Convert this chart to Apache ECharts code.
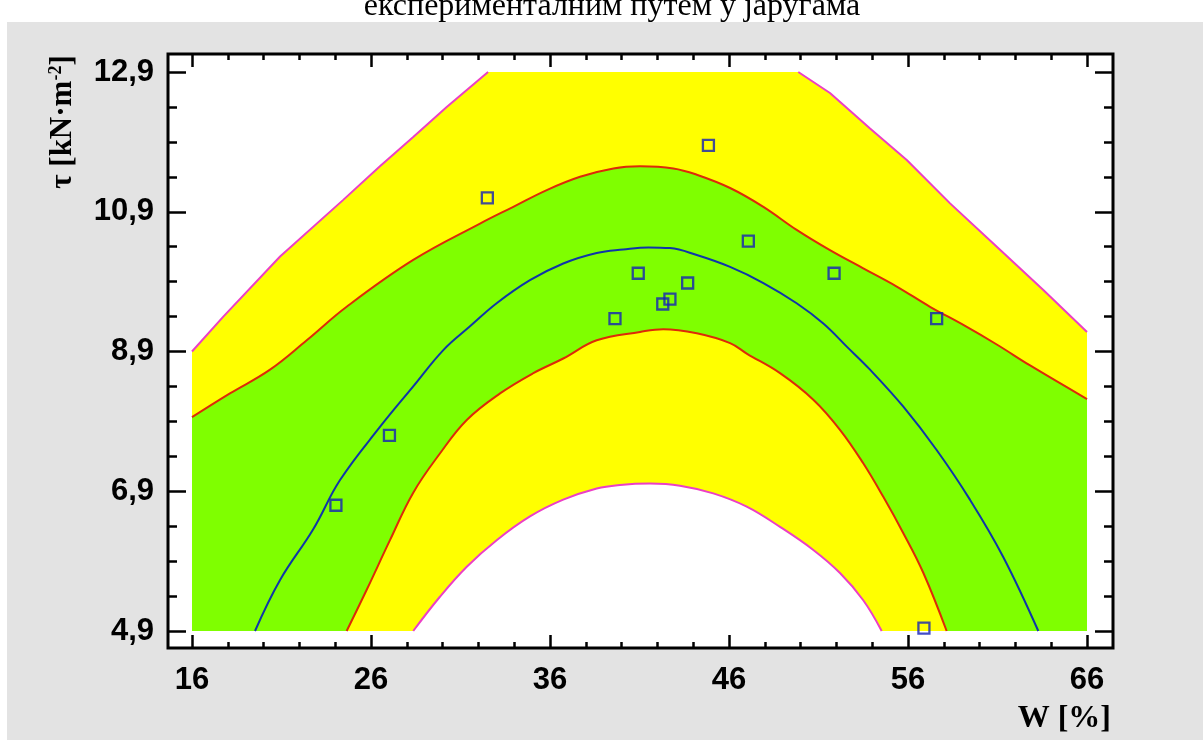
<!DOCTYPE html>
<html lang="sr">
<head>
<meta charset="UTF-8">
<title>τ - W</title>
<script src="https://cdn.jsdelivr.net/npm/echarts@6/dist/echarts.min.js"></script>
<style>
  html, body { margin: 0; padding: 0; background: #fff; }
  #chart { width: 1203px; height: 740px; }
</style>
</head>
<body>
<div id="chart"></div>
<script>
// values: [W %, tau kN/m2]
const xTicks = [16, 26, 36, 46, 56, 66];
const yTicks = [4.9, 6.9, 8.9, 10.9, 12.9];

const magentaUpperLeft = [[16, 8.90], [17.75, 9.40], [20.92, 10.26], [24.45, 11.07], [26.50, 11.55],
  [28.36, 11.97], [30.23, 12.40], [32.54, 12.90]];
const magentaUpperRight = [[49.87, 12.90], [51.64, 12.60], [53.88, 12.09], [55.93, 11.64], [58.35, 11.02],
  [60.96, 10.40], [63.56, 9.78], [66, 9.18]];
const redUpper = [[16, 7.96], [18.12, 8.30], [20.36, 8.64], [22.41, 9.06], [24.64, 9.54], [28.36, 10.21],
  [32.09, 10.73], [33.95, 10.97], [35.82, 11.21], [37.68, 11.40], [39.54, 11.52], [41.03, 11.55],
  [42.89, 11.52], [44.20, 11.43], [46.06, 11.24], [47.92, 10.97], [49.78, 10.64], [51.64, 10.35],
  [53.50, 10.09], [55.37, 9.83], [57.23, 9.54], [59.09, 9.28], [60.96, 9.00], [62.82, 8.70], [66, 8.22]];
const fitLine = [[19.52, 4.9], [20.92, 5.63], [22.78, 6.36], [24.27, 7.06], [26.50, 7.82], [28.36, 8.40],
  [30.04, 8.92], [31.53, 9.26], [33.02, 9.59], [34.88, 9.92], [36.74, 10.16], [38.61, 10.31],
  [40.09, 10.36], [41.50, 10.39], [42.70, 10.38], [44.20, 10.28], [46.06, 10.11], [47.92, 9.88],
  [49.78, 9.59], [51.27, 9.30], [52.58, 8.97], [53.88, 8.64], [55.74, 8.11], [57.60, 7.49],
  [59.46, 6.78], [61.32, 5.96], [63.28, 4.9]];
const redLower = [[24.64, 4.9], [25.76, 5.49], [27.06, 6.20], [28.36, 6.88], [29.85, 7.44], [31.35, 7.92],
  [33.21, 8.30], [35.07, 8.59], [36.74, 8.80], [38.61, 9.06], [41.03, 9.18], [42.33, 9.22],
  [44.20, 9.16], [46.06, 9.02], [46.99, 8.87], [48.85, 8.59], [50.71, 8.21], [52.20, 7.78],
  [53.50, 7.30], [54.62, 6.82], [55.74, 6.30], [56.86, 5.73], [58.16, 4.9]];
const magentaLower = [[28.36, 4.9], [29.85, 5.39], [31.35, 5.82], [33.02, 6.20], [34.88, 6.54],
  [36.74, 6.78], [38.61, 6.94], [39.91, 6.99], [41.59, 7.01], [43.26, 6.98], [45.12, 6.87],
  [46.99, 6.68], [48.85, 6.39], [50.71, 6.06], [52.20, 5.73], [53.50, 5.34], [54.53, 4.9]];
const measured = [[24.04, 6.70], [27.03, 7.70], [32.50, 11.10], [39.63, 9.37], [40.93, 10.02],
  [42.30, 9.58], [42.70, 9.65], [43.69, 9.88], [44.85, 11.85], [47.08, 10.48], [51.87, 10.02],
  [56.89, 4.94], [57.60, 9.37]];

const YELLOW = '#ffff00', GREEN = '#7fff00', MAGENTA = '#ec3fc6', RED = '#dd2a08', BLUE = '#0f36a8';
const labelFont = { fontFamily: 'Liberation Sans', fontWeight: 'bold', fontSize: 31, color: '#000' };
const tickStyle = { color: '#000', width: 2.5 };

function xAxis(position, offset, labels) {
  return {
    type: 'value', position: position, offset: offset,
    min: xTicks[0], max: xTicks[xTicks.length - 1], interval: 10,
    axisLine: { show: false }, splitLine: { show: false },
    axisTick: { inside: true, length: 13, lineStyle: tickStyle },
    minorTick: { show: true, splitNumber: 5, length: 6, lineStyle: tickStyle },
    axisLabel: labels ? Object.assign({ margin: 17 }, labelFont) : { show: false }
  };
}
function yAxis(position, offset, labels) {
  return {
    type: 'value', position: position, offset: offset,
    min: yTicks[0], max: yTicks[yTicks.length - 1], interval: 2,
    axisLine: { show: false }, splitLine: { show: false },
    axisTick: { inside: true, length: 18, lineStyle: tickStyle },
    minorTick: { show: true, splitNumber: 4, length: 9, lineStyle: tickStyle },
    axisLabel: labels ? Object.assign({ margin: 14, formatter: v => v.toFixed(1).replace('.', ',') }, labelFont)
                      : { show: false }
  };
}
function area(data, color, smooth) {
  return { type: 'line', data: data, showSymbol: false, silent: true, smooth: smooth,
    lineStyle: { width: 0 }, areaStyle: { color: color, opacity: 1, origin: 'start' } };
}
function curve(data, color, smooth) {
  return { type: 'line', data: data, showSymbol: false, silent: true, smooth: smooth,
    lineStyle: { color: color, width: 2 } };
}

const chart = echarts.init(document.getElementById('chart'));
chart.setOption({
  backgroundColor: '#fff',
  animation: false,
  grid: { left: 192, right: 116, top: 72, bottom: 109, outerBoundsMode: 'none' },
  xAxis: [xAxis('bottom', 17, true), xAxis('top', 18, false)],
  yAxis: [yAxis('left', 24, true), yAxis('right', 26, false)],
  graphic: [
    { type: 'rect', z: -2, shape: { x: 7, y: 22, width: 1196, height: 718 }, style: { fill: '#e3e3e3' } },
    { type: 'rect', z: -1, shape: { x: 168, y: 54, width: 945, height: 594 }, style: { fill: '#fff' } },
    { type: 'rect', z: 20, shape: { x: 168, y: 54, width: 945, height: 594 },
      style: { fill: 'none', stroke: '#000', lineWidth: 3 } },
    { type: 'text', x: 612, y: 7, style: { text: 'експерименталним путем у јаругама',
      font: '32px "Liberation Serif"', fill: '#000', align: 'center', verticalAlign: 'middle' } },
    { type: 'text', x: 1111, y: 719, style: { text: 'W [%]',
      font: 'bold 32px "Liberation Serif"', fill: '#000', align: 'right', verticalAlign: 'middle' } },
    { type: 'text', x: 63, y: 122, rotation: Math.PI / 2, style: {
      text: '{a|τ [kN·m}{s|-2}{a|]}', align: 'center', verticalAlign: 'middle',
      rich: {
        a: { fontFamily: 'Liberation Serif', fontWeight: 'bold', fontSize: 31, fill: '#000' },
        s: { fontFamily: 'Liberation Serif', fontWeight: 'bold', fontSize: 18, fill: '#000', verticalAlign: 'top' }
      } } }
  ],
  series: [
    area(magentaUpperLeft.concat(magentaUpperRight), YELLOW, false),
    area(redUpper, GREEN, 0.4),
    area(redLower, YELLOW, 0.4),
    area(magentaLower, '#fff', 0.4),
    curve(magentaUpperLeft, MAGENTA, false),
    curve(magentaUpperRight, MAGENTA, false),
    curve(redUpper, RED, 0.4),
    curve(redLower, RED, 0.4),
    curve(magentaLower, MAGENTA, 0.4),
    curve(fitLine, BLUE, 0.4),
    {
      type: 'scatter', data: measured, symbol: 'rect', symbolSize: 11, silent: true, z: 10,
      itemStyle: { color: 'rgba(0,0,0,0)', borderColor: '#1420b8', borderWidth: 2.3 }
    }
  ]
});
</script>
</body>
</html>
